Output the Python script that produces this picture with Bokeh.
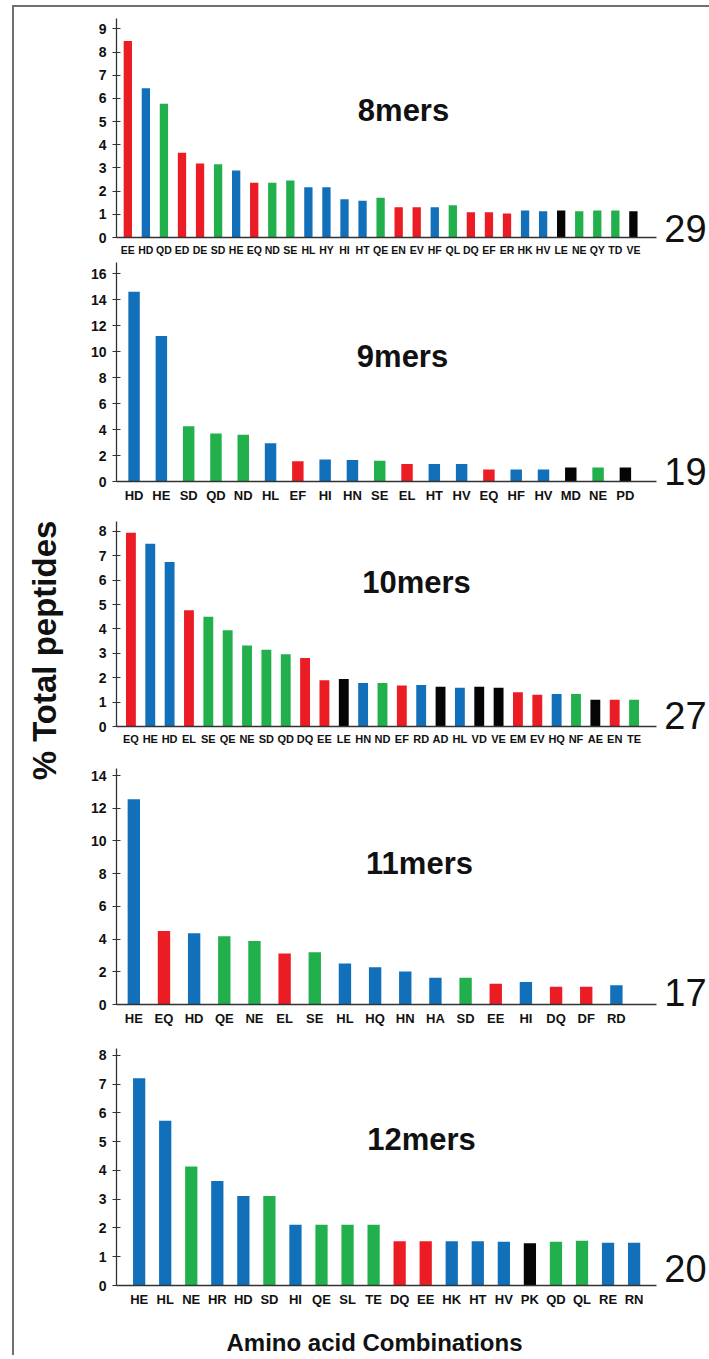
from bokeh.plotting import figure
from bokeh.layouts import row, column
from bokeh.models import Label, FixedTicker, SingleIntervalTicker, Range1d, ColumnDataSource
from bokeh.embed import file_html
from bokeh.resources import INLINE

# ---------------- data ----------------
mers8_labels = ["EE", "HD", "QD", "ED", "DE", "SD", "HE", "EQ", "ND", "SE", "HL", "HY", "HI", "HT", "QE",
                "EN", "EV", "HF", "QL", "DQ", "EF", "ER", "HK", "HV", "LE", "NE", "QY", "TD", "VE"]
mers8_values = [8.48, 6.44, 5.77, 3.66, 3.19, 3.16, 2.89, 2.36, 2.36, 2.46, 2.17, 2.17, 1.65, 1.59, 1.72,
                1.30, 1.30, 1.30, 1.39, 1.09, 1.09, 1.04, 1.16, 1.13, 1.17, 1.13, 1.17, 1.17, 1.13]
mers8_groups = ["R", "B", "G", "R", "R", "G", "B", "R", "G", "G", "B", "B", "B", "B", "G",
                "R", "R", "B", "G", "R", "R", "R", "B", "B", "K", "G", "G", "G", "K"]

mers9_labels = ["HD", "HE", "SD", "QD", "ND", "HL", "EF", "HI", "HN", "SE", "EL", "HT", "HV", "EQ", "HF",
                "HV", "MD", "NE", "PD"]
mers9_values = [14.6, 11.2, 4.25, 3.7, 3.6, 2.95, 1.55, 1.7, 1.65, 1.6, 1.35, 1.35, 1.35, 0.92, 0.92,
                0.92, 1.08, 1.08, 1.08]
mers9_groups = ["B", "B", "G", "G", "G", "B", "R", "B", "B", "G", "R", "B", "B", "R", "B",
                "B", "K", "G", "K"]

mers10_labels = ["EQ", "HE", "HD", "EL", "SE", "QE", "NE", "SD", "QD", "DQ", "EE", "LE", "HN", "ND", "EF",
                 "RD", "AD", "HL", "VD", "VE", "EM", "EV", "HQ", "NF", "AE", "EN", "TE"]
mers10_values = [7.95, 7.5, 6.75, 4.77, 4.5, 3.95, 3.32, 3.15, 2.96, 2.81, 1.9, 1.95, 1.78, 1.78, 1.68,
                 1.70, 1.63, 1.59, 1.63, 1.59, 1.41, 1.30, 1.33, 1.33, 1.10, 1.10, 1.10]
mers10_groups = ["R", "B", "B", "R", "G", "G", "G", "G", "G", "R", "R", "K", "B", "G", "R",
                 "B", "K", "B", "K", "K", "R", "R", "B", "G", "K", "R", "G"]

mers11_labels = ["HE", "EQ", "HD", "QE", "NE", "EL", "SE", "HL", "HQ", "HN", "HA", "SD", "EE", "HI", "DQ",
                 "DF", "RD"]
mers11_values = [12.55, 4.49, 4.35, 4.18, 3.88, 3.12, 3.2, 2.51, 2.27, 2.02, 1.63, 1.63, 1.27, 1.37, 1.08,
                 1.08, 1.18]
mers11_groups = ["B", "R", "B", "G", "G", "R", "G", "B", "B", "B", "B", "G", "R", "B", "R",
                 "R", "B"]

mers12_labels = ["HE", "HL", "NE", "HR", "HD", "SD", "HI", "QE", "SL", "TE", "DQ", "EE", "HK", "HT", "HV",
                 "PK", "QD", "QL", "RE", "RN"]
mers12_values = [7.21, 5.73, 4.14, 3.63, 3.11, 3.11, 2.11, 2.11, 2.11, 2.11, 1.54, 1.54, 1.54, 1.54, 1.52,
                 1.47, 1.52, 1.56, 1.49, 1.49]
mers12_groups = ["B", "B", "G", "B", "B", "G", "B", "G", "G", "G", "R", "R", "B", "B", "B",
                 "K", "G", "G", "B", "B"]

titles = ["8mers", "9mers", "10mers", "11mers", "12mers"]
y_label = "% Total peptides"
x_label = "Amino acid Combinations"

# ---------------- styles ----------------
COLORS = {"R": "#EC1C24", "B": "#1170B9", "G": "#21B04B", "K": "#050505"}
FONT = "Liberation Sans"
AXIS_COL = "#333333"
TXT = "#111111"

TOP = 7            # page y where the canvases start (margin 5 + border 2)
STRIP_L = 14       # page x where the left strip starts
LEFT = 65          # page x where panel canvases start
PANEL_W = 598      # panel canvas width
RIGHT_W = 46       # right strip (counts)
BOTTOM_H = 46      # bottom strip (x title)

specs = [
    dict(fl=114, fr=658, bt=11, fh=220, bb=20, x0=-0.627, x1=29.28, ymax=9.45, ystep=1, w=0.46, tf="10.5px",
         tx=287, ty=127, cy=10),
    dict(fl=116, fr=660, bt=4, fh=219, bb=24, x0=-0.644, x1=19.14, ymax=16.85, ystep=2, w=0.42, tf="13px",
         tx=286, ty=125, cy=10),
    dict(fl=113, fr=656, bt=16, fh=205, bb=29, x0=-0.745, x1=27.16, ymax=8.41, ystep=1, w=0.51, tf="11px",
         tx=300, ty=144, cy=11),
    dict(fl=113, fr=656, bt=13, fh=236, bb=36, x0=-0.574, x1=17.33, ymax=14.43, ystep=2, w=0.41, tf="13px",
         tx=303, ty=141, cy=12),
    dict(fl=113, fr=656, bt=8, fh=237, bb=24, x0=-0.87, x1=19.86, ymax=8.24, ystep=1, w=0.47, tf="13px",
         tx=305, ty=146, cy=17),
]

datasets = [
    (mers8_labels, mers8_values, mers8_groups),
    (mers9_labels, mers9_values, mers9_groups),
    (mers10_labels, mers10_values, mers10_groups),
    (mers11_labels, mers11_values, mers11_groups),
    (mers12_labels, mers12_values, mers12_groups),
]


def make_panel(labels, values, groups, title, s):
    n = len(labels)
    height = s["bt"] + s["fh"] + s["bb"]
    p = figure(width=PANEL_W, height=height, toolbar_location=None, output_backend="svg",
               x_range=Range1d(s["x0"], s["x1"]), y_range=Range1d(0, s["ymax"]),
               min_border_left=s["fl"] - LEFT, min_border_right=LEFT + PANEL_W - s["fr"],
               min_border_top=s["bt"], min_border_bottom=s["bb"])
    src = ColumnDataSource(dict(x=list(range(n)), top=values, color=[COLORS[g] for g in groups]))
    p.vbar(x="x", top="top", bottom=0, width=s["w"], fill_color="color", line_color=None, source=src)

    p.outline_line_color = None
    p.xgrid.visible = False
    p.ygrid.visible = False

    xa = p.xaxis[0]
    xa.ticker = FixedTicker(ticks=list(range(n)))
    xa.major_label_overrides = {i: lab for i, lab in enumerate(labels)}
    xa.major_tick_line_color = None
    xa.major_tick_in = 0
    xa.major_tick_out = 0
    xa.minor_tick_line_color = None
    xa.axis_line_color = AXIS_COL
    xa.axis_line_width = 1.5
    xa.major_label_standoff = 6
    xa.major_label_text_font = FONT
    xa.major_label_text_font_style = "bold"
    xa.major_label_text_font_size = s["tf"]
    xa.major_label_text_color = TXT

    ya = p.yaxis[0]
    ya.ticker = SingleIntervalTicker(interval=s["ystep"], num_minor_ticks=0)
    ya.major_tick_in = 4
    ya.major_tick_out = 4
    ya.minor_tick_line_color = None
    ya.axis_line_color = AXIS_COL
    ya.axis_line_width = 1.3
    ya.major_tick_line_color = AXIS_COL
    ya.major_tick_line_width = 1.2
    ya.major_label_standoff = 6
    ya.major_label_text_font = FONT
    ya.major_label_text_font_style = "bold"
    ya.major_label_text_font_size = "14px"
    ya.major_label_text_color = TXT

    p.add_layout(Label(x=s["tx"], y=s["ty"], x_units="screen", y_units="screen", text=title,
                       text_font=FONT, text_font_style="bold", text_font_size="31px",
                       text_align="center", text_baseline="middle", text_color=TXT))
    return p


panels = [make_panel(labs, vals, grps, title, s)
          for (labs, vals, grps), title, s in zip(datasets, titles, specs)]
panels_h = sum(s["bt"] + s["fh"] + s["bb"] for s in specs)

# right strip: number of combinations in each panel
right = figure(width=RIGHT_W, height=panels_h, toolbar_location=None, output_backend="svg",
               x_range=Range1d(0, 1), y_range=Range1d(0, 1), x_axis_type=None, y_axis_type=None,
               min_border=0)
right.outline_line_color = None
right.xgrid.visible = False
right.ygrid.visible = False
canvas_top = TOP
for (labs, vals, grps), s in zip(datasets, specs):
    frame_bottom = canvas_top + s["bt"] + s["fh"]
    center_y = frame_bottom - s["cy"]
    right.add_layout(Label(x=685 - (LEFT + PANEL_W), y=(TOP + panels_h) - center_y,
                           x_units="screen", y_units="screen", text=str(len(labs)),
                           text_font=FONT, text_font_size="38px", text_align="center",
                           text_baseline="middle", text_color=TXT))
    canvas_top += s["bt"] + s["fh"] + s["bb"]

# bottom strip: x title
bottom = figure(width=PANEL_W + RIGHT_W, height=BOTTOM_H, toolbar_location=None, output_backend="svg",
                x_range=Range1d(0, 1), y_range=Range1d(0, 1), x_axis_type=None, y_axis_type=None,
                min_border=0)
bottom.outline_line_color = None
bottom.xgrid.visible = False
bottom.ygrid.visible = False
bottom.add_layout(Label(x=374 - LEFT, y=(TOP + panels_h + BOTTOM_H) - 1342, x_units="screen", y_units="screen",
                        text=x_label, text_font=FONT, text_font_style="bold", text_font_size="24px",
                        text_align="center", text_baseline="middle", text_color=TXT))

# left strip: y title
total_h = panels_h + BOTTOM_H
left = figure(width=LEFT - STRIP_L, height=total_h, toolbar_location=None, output_backend="svg",
              x_range=Range1d(0, 1), y_range=Range1d(0, 1), x_axis_type=None, y_axis_type=None,
              min_border=0)
left.outline_line_color = None
left.xgrid.visible = False
left.ygrid.visible = False
left.add_layout(Label(x=44 - STRIP_L, y=(TOP + total_h) - 650, x_units="screen", y_units="screen",
                      text=y_label, angle=1.5707963, text_font=FONT, text_font_style="bold",
                      text_font_size="33px", text_align="center", text_baseline="middle", text_color=TXT))

main = column(row(column(*panels, spacing=0), right, spacing=0), bottom, spacing=0)
layout = row(left, main, spacing=0, margin=(5, 0, 0, 12),
             styles={"border-top": "2px solid #707070", "border-left": "2px solid #707070"})

open("out.html", "w").write(file_html(layout, INLINE))
